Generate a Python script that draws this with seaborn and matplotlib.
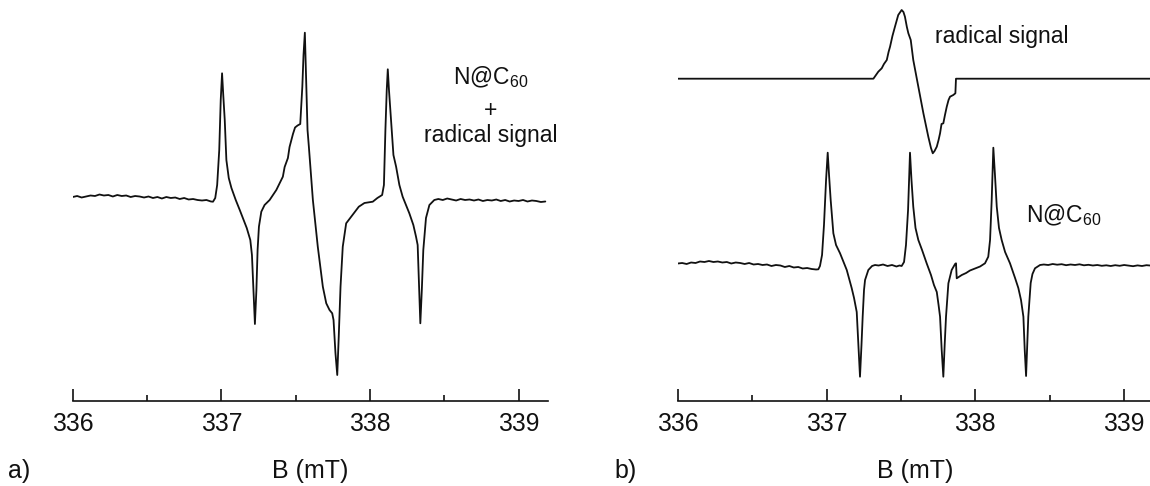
import numpy as np
import pandas as pd
import matplotlib
matplotlib.use("Agg")
import matplotlib.pyplot as plt
from matplotlib.ticker import FixedLocator
import seaborn as sns

# ---------------------------------------------------------------------------
# EPR spectra, magnetic field B in mT, intensity in arbitrary units
# ---------------------------------------------------------------------------

# (a) N@C60 + radical signal: baseline, hyperfine triplet, baseline
a_left_B = [336.00, 336.03, 336.06, 336.09, 336.12, 336.15, 336.18, 336.21,
            336.24, 336.27, 336.30, 336.33, 336.36, 336.39, 336.42, 336.45,
            336.48, 336.51, 336.54, 336.57, 336.60, 336.63, 336.66, 336.69,
            336.72, 336.75, 336.78, 336.81, 336.84, 336.87, 336.90, 336.93]
a_left_I = [0.020, 0.030, 0.015, 0.025, 0.035, 0.030, 0.045, 0.035,
            0.040, 0.025, 0.040, 0.030, 0.035, 0.020, 0.030, 0.025,
            0.015, 0.025, 0.010, 0.020, 0.005, 0.020, 0.010, 0.015,
            0.000, 0.010, -0.005, 0.000, -0.010, -0.015, -0.010, -0.025]

a_mid_B = [336.944, 336.959, 336.972, 336.986, 336.996, 337.005, 337.013, 337.023,
           337.034, 337.050, 337.068, 337.097, 337.124, 337.150, 337.171, 337.195,
           337.206, 337.216, 337.226, 337.236, 337.244, 337.253, 337.269, 337.291,
           337.325, 337.370, 337.392, 337.414, 337.426, 337.448, 337.459, 337.482,
           337.496, 337.513, 337.531, 337.545, 337.553, 337.562, 337.572, 337.580,
           337.589, 337.616, 337.649, 337.683, 337.706, 337.728, 337.746, 337.755,
           337.768, 337.780, 337.790, 337.802, 337.817, 337.840, 337.874, 337.925,
           337.963, 338.019, 338.050, 338.082, 338.094, 338.104, 338.113, 338.120,
           338.128, 338.142, 338.158, 338.176, 338.198, 338.220, 338.265, 338.292,
           338.310, 338.321, 338.329, 338.339, 338.349, 338.359, 338.377, 338.400,
           338.433]
a_mid_I = [-0.027, 0.010, 0.140, 0.490, 0.990, 1.257, 1.040, 0.790,
           0.390, 0.210, 0.110, -0.010, -0.110, -0.210, -0.290, -0.410,
           -0.560, -0.910, -1.250, -0.910, -0.510, -0.277, -0.127, -0.060,
           -0.010, 0.090, 0.157, 0.223, 0.320, 0.410, 0.520, 0.650,
           0.715, 0.735, 0.750, 1.123, 1.440, 1.663, 1.123, 0.690,
           0.523, -0.010, -0.477, -0.877, -1.043, -1.110, -1.143, -1.210,
           -1.543, -1.760, -1.377, -0.877, -0.477, -0.243, -0.177, -0.077,
           -0.040, -0.027, 0.010, 0.040, 0.140, 0.690, 1.090, 1.297,
           1.090, 0.790, 0.440, 0.323, 0.140, 0.023, -0.143, -0.260,
           -0.377, -0.460, -0.810, -1.243, -0.910, -0.510, -0.190, -0.060,
           -0.010]

a_right_B = [338.46, 338.49, 338.52, 338.55, 338.58, 338.61, 338.64, 338.67,
             338.70, 338.73, 338.76, 338.79, 338.82, 338.85, 338.88, 338.91,
             338.94, 338.97, 339.00, 339.03, 339.06, 339.09, 339.12, 339.15,
             339.18]
a_right_I = [0.000, -0.010, 0.005, -0.005, -0.015, 0.000, -0.010, -0.005,
             -0.015, -0.005, -0.020, -0.010, -0.015, -0.005, -0.020, -0.010,
             -0.025, -0.015, -0.020, -0.010, -0.025, -0.015, -0.020, -0.030,
             -0.025]

# (b) N@C60 trace
b_left_B = a_left_B
b_left_I = [0.015, 0.020, 0.010, 0.025, 0.020, 0.035, 0.030, 0.040,
            0.030, 0.035, 0.025, 0.030, 0.015, 0.025, 0.020, 0.010,
            0.020, 0.005, 0.010, 0.000, 0.005, -0.010, 0.000, -0.005,
            -0.020, -0.010, -0.025, -0.020, -0.035, -0.030, -0.040, -0.045]

b_mid_B = [336.945, 336.956, 336.970, 336.983, 336.997, 337.008, 337.017, 337.028,
           337.046, 337.064, 337.091, 337.136, 337.169, 337.185, 337.203, 337.214,
           337.225, 337.235, 337.243, 337.252, 337.259, 337.281, 337.306, 337.326,
           337.350, 337.380, 337.410, 337.440, 337.470, 337.490, 337.505, 337.521,
           337.534, 337.548, 337.561, 337.571, 337.583, 337.598, 337.617, 337.642,
           337.673, 337.702, 337.722, 337.741, 337.753, 337.763, 337.774, 337.785,
           337.794, 337.803, 337.819, 337.841, 337.864, 337.870, 337.875, 337.909,
           337.938, 337.964, 337.998, 338.032, 338.065, 338.087, 338.099, 338.110,
           338.121, 338.132, 338.144, 338.159, 338.177, 338.200, 338.233, 338.267,
           338.289, 338.307, 338.323, 338.332, 338.341, 338.349, 338.356, 338.372,
           338.384, 338.401, 338.435]
b_mid_I = [-0.043, -0.010, 0.100, 0.400, 0.850, 1.123, 0.900, 0.650,
           0.317, 0.200, 0.117, -0.050, -0.230, -0.330, -0.470, -0.800,
           -1.117, -0.800, -0.517, -0.250, -0.150, -0.050, -0.010, 0.000,
           -0.005, 0.005, -0.010, 0.000, -0.015, -0.005, -0.010, 0.030,
           0.200, 0.550, 1.123, 0.850, 0.583, 0.370, 0.250, 0.150,
           0.017, -0.100, -0.200, -0.270, -0.400, -0.517, -0.850, -1.117,
           -0.800, -0.517, -0.183, -0.050, 0.010, 0.017, -0.133, -0.100,
           -0.080, -0.055, -0.035, -0.015, 0.017, 0.083, 0.250, 0.650,
           1.173, 0.900, 0.583, 0.370, 0.250, 0.130, 0.017, -0.130,
           -0.230, -0.350, -0.517, -0.850, -1.110, -0.800, -0.517, -0.180,
           -0.090, -0.033, 0.000]

b_right_B = [338.46, 338.49, 338.52, 338.55, 338.58, 338.61, 338.64, 338.67,
             338.70, 338.73, 338.76, 338.79, 338.82, 338.85, 338.88, 338.91,
             338.94, 338.97, 339.00, 339.03, 339.06, 339.09, 339.12, 339.15,
             339.18]
b_right_I = [0.005, 0.000, 0.010, 0.003, 0.008, -0.002, 0.005, 0.000,
             0.007, -0.003, 0.002, -0.005, 0.000, -0.008, -0.003, -0.010,
             -0.002, -0.008, 0.000, -0.006, -0.012, -0.004, -0.010, -0.002,
             -0.006]

# (b) separated radical signal (flat outside its field range)
rad_B = [336.000, 337.315, 337.348, 337.371, 337.386, 337.405, 337.417, 337.427,
         337.443, 337.460, 337.482, 337.505, 337.517, 337.527, 337.540, 337.550,
         337.566, 337.583, 337.617, 337.651, 337.684, 337.702, 337.714, 337.726,
         337.741, 337.753, 337.763, 337.773, 337.785, 337.796, 337.808, 337.820,
         337.830, 337.852, 337.866, 337.870, 339.200]
rad_I = [0.000, 0.000, 0.070, 0.104, 0.147, 0.187, 0.267, 0.320,
         0.427, 0.520, 0.637, 0.687, 0.667, 0.620, 0.517, 0.454,
         0.387, 0.187, -0.080, -0.346, -0.580, -0.693, -0.746, -0.723,
         -0.680, -0.613, -0.546, -0.453, -0.446, -0.363, -0.280, -0.213,
         -0.180, -0.163, -0.146, 0.000, 0.000]

tick_major = [336, 337, 338, 339]
tick_minor = [336.5, 337.5, 338.5]
x_label = "B (mT)"

# ---------------------------------------------------------------------------
sns.set_theme(style="white")
plt.rcParams["font.family"] = ["Liberation Sans", "DejaVu Sans"]
plt.rcParams["mathtext.fontset"] = "custom"
plt.rcParams["mathtext.rm"] = "Liberation Sans"
plt.rcParams["mathtext.it"] = "Liberation Sans:italic"

W, H = 1150, 486
fig = plt.figure(figsize=(W / 100, H / 100), dpi=100)
fig.patch.set_facecolor("white")

ink = "#111111"
spec_a = pd.DataFrame({"B": a_left_B + a_mid_B + a_right_B,
                       "I": a_left_I + a_mid_I + a_right_I})
spec_b = pd.DataFrame({"B": b_left_B + b_mid_B + b_right_B,
                       "I": b_left_I + b_mid_I + b_right_I})
rad_offset = 1.863
spec_r = pd.DataFrame({"B": rad_B, "I": np.array(rad_I) + rad_offset})


def px(x, y):
    return x / W, 1 - y / H


ax_a = fig.add_axes([72.7 / W, 85 / H, 475.6 / W, 401 / H])
ax_b = fig.add_axes([677.7 / W, 85 / H, 476.2 / W, 401 / H])

line_kw = dict(estimator=None, sort=False, color=ink, lw=1.3)
sns.lineplot(data=spec_a, x="B", y="I", ax=ax_a, **line_kw)
sns.lineplot(data=spec_b, x="B", y="I", ax=ax_b, **line_kw)
sns.lineplot(data=spec_r, x="B", y="I", ax=ax_b, **line_kw)

ax_a.set_ylim(-2.02, 1.99)
ax_b.set_ylim(-1.36, 2.65)

for ax in (ax_a, ax_b):
    ax.set_xlim(336, 339.2)
    ax.set_facecolor("none")
    sns.despine(ax=ax, left=True, top=True, right=True)
    ax.spines["bottom"].set_color(ink)
    ax.spines["bottom"].set_linewidth(1.2)
    ax.xaxis.set_major_locator(FixedLocator(tick_major))
    ax.xaxis.set_minor_locator(FixedLocator(tick_minor))
    ax.set_xticklabels([str(t) for t in tick_major])
    ax.tick_params(axis="x", which="major", direction="in", length=8.6,
                   width=1.2, color=ink, labelsize=17.8, labelcolor=ink, pad=8,
                   bottom=True)
    ax.tick_params(axis="x", which="minor", direction="in", length=4.3,
                   width=1.2, color=ink, bottom=True)
    ax.set_yticks([])
    ax.set_xlabel("")
    ax.set_ylabel("")

# axis titles and panel letters
fig.text(*px(310.5, 478), x_label, ha="center", va="baseline", fontsize=18, color=ink)
fig.text(*px(915, 478), x_label, ha="center", va="baseline", fontsize=18, color=ink)
fig.text(*px(8, 478), "a)", ha="left", va="baseline", fontsize=18, color=ink)
fig.text(*px(614, 478), "b)", ha="left", va="baseline", fontsize=18, color=ink)

# annotations
fig.text(*px(490.5, 84), r"N@C$_{\mathrm{60}}$", ha="center", va="baseline",
         fontsize=16.5, color=ink)
fig.text(*px(490.5, 117), "+", ha="center", va="baseline", fontsize=16.5, color=ink)
fig.text(*px(490.5, 141.7), "radical signal", ha="center", va="baseline",
         fontsize=16.5, color=ink)
fig.text(*px(935.3, 42.7), "radical signal", ha="left", va="baseline",
         fontsize=16.5, color=ink)
fig.text(*px(1026, 221.7), r"N@C$_{\mathrm{60}}$", ha="left", va="baseline",
         fontsize=16.5, color=ink)

fig.savefig("out.png", dpi=100, facecolor="white")
